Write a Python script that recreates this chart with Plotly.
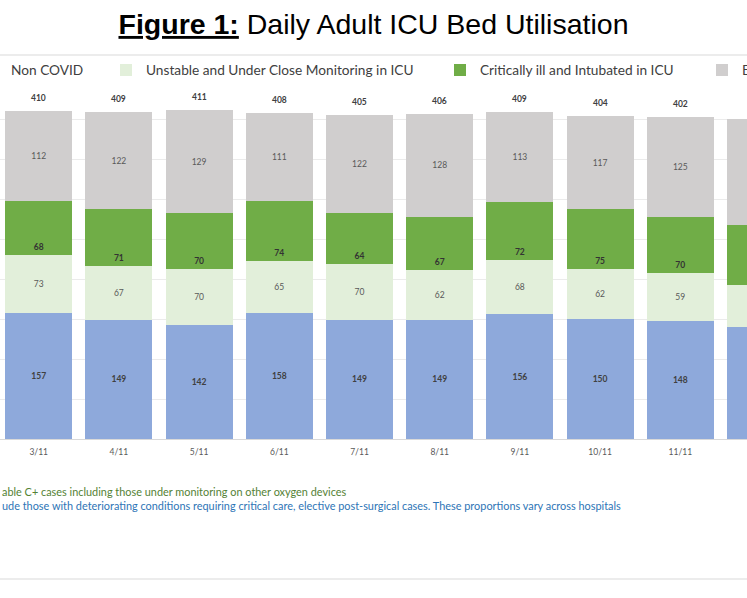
import plotly.graph_objects as go

# Daily adult ICU bed utilisation
dates = ["3/11", "4/11", "5/11", "6/11", "7/11", "8/11", "9/11", "10/11", "11/11", "12/11"]
non_covid = [157, 149, 142, 158, 149, 149, 156, 150, 148, 140]
unstable = [73, 67, 70, 65, 70, 62, 68, 62, 59, 52]
intubated = [68, 71, 70, 74, 64, 67, 72, 75, 70, 75]
empty_beds = [112, 122, 129, 111, 122, 128, 113, 117, 125, 133]
totals = [sum(v) for v in zip(non_covid, unstable, intubated, empty_beds)]

series_names = ["Non COVID", "Unstable and Under Close Monitoring in ICU",
                "Critically ill and Intubated in ICU", "Empty Beds"]

note_green = "able C+ cases including those under monitoring on other oxygen devices"
note_blue = ("ude those with deteriorating conditions requiring critical care, "
             "elective post-surgical cases. These proportions vary across hospitals")

W, H = 747, 598
TOP, BOTTOM = 79, 439          # pixel rows of y=450 and y=0
FONT = "Lato, 'Open Sans', sans-serif"

def py(pix):
    # pixel row -> paper y
    return (BOTTOM - pix) / (BOTTOM - TOP)

styles = [
    # colour, label colour, bold, text anchor, legend text start (px)
    ("#8EA9DB", "#404040", True, "middle", 11),
    ("#E2EFDA", "#595959", False, "middle", 146),
    ("#70AD47", "#333333", True, "start", 480),
    ("#D0CECE", "#595959", False, "middle", 742),
]

fig = go.Figure()
legends = {}
for i, (name, vals, st) in enumerate(zip(series_names,
                                        [non_covid, unstable, intubated, empty_beds],
                                        styles)):
    color, tcolor, bold, anchor, lx = st
    lid = "legend" if i == 0 else "legend%d" % (i + 1)
    fig.add_trace(go.Bar(
        x=dates, y=vals, name=name,
        marker=dict(color=color, line=dict(width=0)),
        text=["<b>%d</b>" % v if bold else str(v) for v in vals],
        textposition="inside", insidetextanchor=anchor, textangle=0,
        textfont=dict(family=FONT, size=8.5, color=tcolor),
        legend=lid, hoverinfo="x+y+name",
    ))
    legends[lid] = dict(
        x=(lx - 40) / W, xref="paper", xanchor="left",
        y=1 - 70 / H, yref="container", yanchor="middle",
        orientation="h", bgcolor="rgba(0,0,0,0)", borderwidth=0,
        font=dict(family=FONT, size=13.7, color="#404040"),
    )

# totals above each bar
for d, t in zip(dates, totals):
    fig.add_annotation(x=d, y=t, text="<b>%d</b>" % t, showarrow=False,
                       yshift=13, font=dict(family=FONT, size=8.5, color="#404040"))

fig.add_annotation(x=0, y=py(491), xref="paper", yref="paper", xanchor="left",
                   yanchor="middle", text=note_green, showarrow=False,
                   font=dict(family=FONT, size=10.9, color="#548235"))
fig.add_annotation(x=0, y=py(505), xref="paper", yref="paper", xanchor="left",
                   yanchor="middle", text=note_blue, showarrow=False,
                   font=dict(family=FONT, size=10.9, color="#2E75B6"))

# chart border (only top and bottom edges visible)
for pix in (55, 579):
    fig.add_shape(type="line", xref="paper", yref="paper", x0=-0.1, x1=1.1,
                  y0=py(pix), y1=py(pix), line=dict(color="#D9D9D9", width=1))

pitch = 80.2
x0 = -38.7 / pitch
fig.update_layout(
    width=W, height=H,
    margin=dict(l=0, r=0, t=TOP, b=H - BOTTOM, autoexpand=False),
    barmode="stack", bargap=0.165,
    paper_bgcolor="white", plot_bgcolor="white",
    title=dict(text="<b><u>Figure 1:</u></b> Daily Adult ICU Bed Utilisation",
               x=0.5, xanchor="center", y=1 - 24 / H, yanchor="middle",
               font=dict(family="Liberation Sans, Arial", size=28.5, color="black")),
    xaxis=dict(type="category", range=[x0, x0 + W / pitch], showline=True,
               linecolor="#D9D9D9", linewidth=1, ticks="", showgrid=False,
               ticklabelstandoff=5,
               tickfont=dict(family=FONT, size=8.5, color="#595959")),
    yaxis=dict(range=[0, 450], dtick=50, showticklabels=False, showgrid=True,
               gridcolor="#EBEBEB", gridwidth=1, zeroline=False),
    showlegend=True,
    **legends,
)

# drop the page's default body margin so the figure fills the window
fig.write_html("out.html", config={"displayModeBar": False},
               post_script="document.body.style.margin='0px';"
                           "document.body.style.overflow='hidden';")
